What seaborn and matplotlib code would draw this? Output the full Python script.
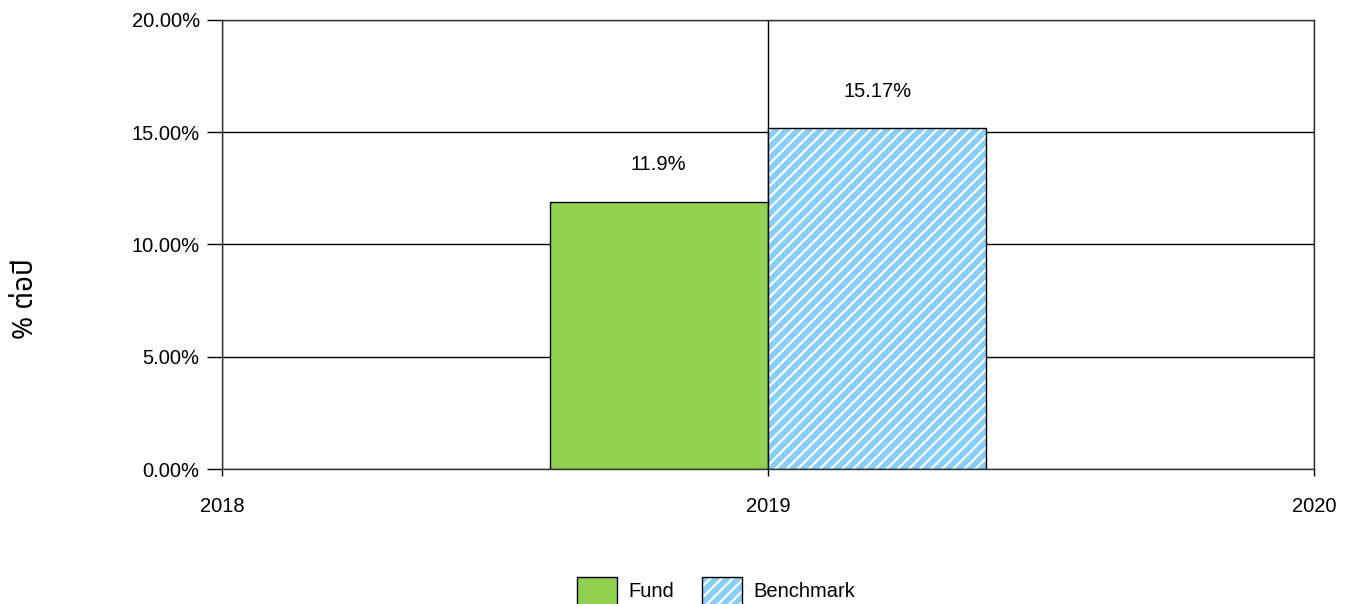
import pandas as pd
import matplotlib
matplotlib.use('Agg')
import matplotlib.pyplot as plt
import matplotlib.patches as mpatches
import matplotlib.colors as mcolors
from matplotlib.ticker import FuncFormatter
import seaborn as sns

# ข้อมูลผลตอบแทน
years = [2019, 2019]
series = ['Fund', 'Benchmark']
returns = [11.9, 15.17]
value_labels = ['11.9%', '15.17%']
x_ticks = [2018, 2019, 2020]
y_ticks = [0, 5, 10, 15, 20]

colors = {'Fund': '#92D050', 'Benchmark': '#87CEFA'}

df = pd.DataFrame({'Year': years, 'Series': series, 'Return': returns})

sns.set_style('white')
plt.rcParams['font.family'] = ['Liberation Sans', 'DejaVu Sans']
plt.rcParams['text.color'] = 'black'
plt.rcParams['hatch.linewidth'] = 1.6


def white_hatch(p):
    if hasattr(p, 'set_hatchcolor'):
        p.set_hatchcolor('white')
    else:
        p._hatch_color = mcolors.to_rgba('white')


fig = plt.figure(figsize=(13.46, 6.04), dpi=100)
ax = fig.add_axes([0.1649, 0.2235, 0.8113, 0.7434])

sns.barplot(data=df, x='Year', y='Return', hue='Series', hue_order=series,
            palette=colors, native_scale=True, errorbar=None,
            edgecolor='black', linewidth=1, saturation=1, ax=ax)
ax.get_legend().remove()

# ลาย hatch ของ Benchmark
for bar, name in zip(ax.patches, series):
    if name == 'Benchmark':
        bar.set_hatch('///')
        white_hatch(bar)

for bar, lab in zip(ax.patches, value_labels):
    ax.annotate(lab, (bar.get_x() + bar.get_width() / 2, bar.get_height()),
                xytext=(0, 20), textcoords='offset points', ha='center', va='bottom',
                fontsize=14.5, color='black')

ax.set_xlim(2018, 2020)
ax.set_ylim(0, 20)
ax.set_xticks(x_ticks)
ax.set_yticks(y_ticks)
ax.yaxis.set_major_formatter(FuncFormatter(lambda v, p: f'{v:.2f}%'))
ax.xaxis.set_major_formatter(FuncFormatter(lambda v, p: f'{int(v)}'))
ax.tick_params(axis='y', length=11, width=1, pad=5, labelsize=14.5, color='black',
               labelcolor='black', left=True)
ax.tick_params(axis='x', length=5, width=1, pad=15, labelsize=14.5, color='black',
               labelcolor='black', bottom=True)
ax.set_axisbelow(True)
ax.grid(True, color='black', linewidth=1)
for s in ax.spines.values():
    s.set_color('#333333')
    s.set_linewidth(1)
ax.set_xlabel('')
ax.set_ylabel('')

fig.text(0.019, 0.505, '% ต่อปี', rotation=90, ha='center', va='center',
         fontsize=20, fontweight='bold',
         family=['Noto Sans Thai', 'Noto Sans Thai UI', 'Loma', 'Garuda', 'Tahoma',
                 'Liberation Sans', 'DejaVu Sans'])

handles = []
for name in series:
    h = mpatches.Patch(facecolor=colors[name], edgecolor='black', label=name)
    if name == 'Benchmark':
        h.set_hatch('///')
        white_hatch(h)
    handles.append(h)
fig.legend(handles=handles, loc='center', bbox_to_anchor=(716 / 1346, 1 - 591 / 604),
           ncol=2, frameon=False, fontsize=14.5, handlelength=2.0, handleheight=1.8,
           columnspacing=1.4, handletextpad=0.55)

fig.savefig('out.png', dpi=100)
